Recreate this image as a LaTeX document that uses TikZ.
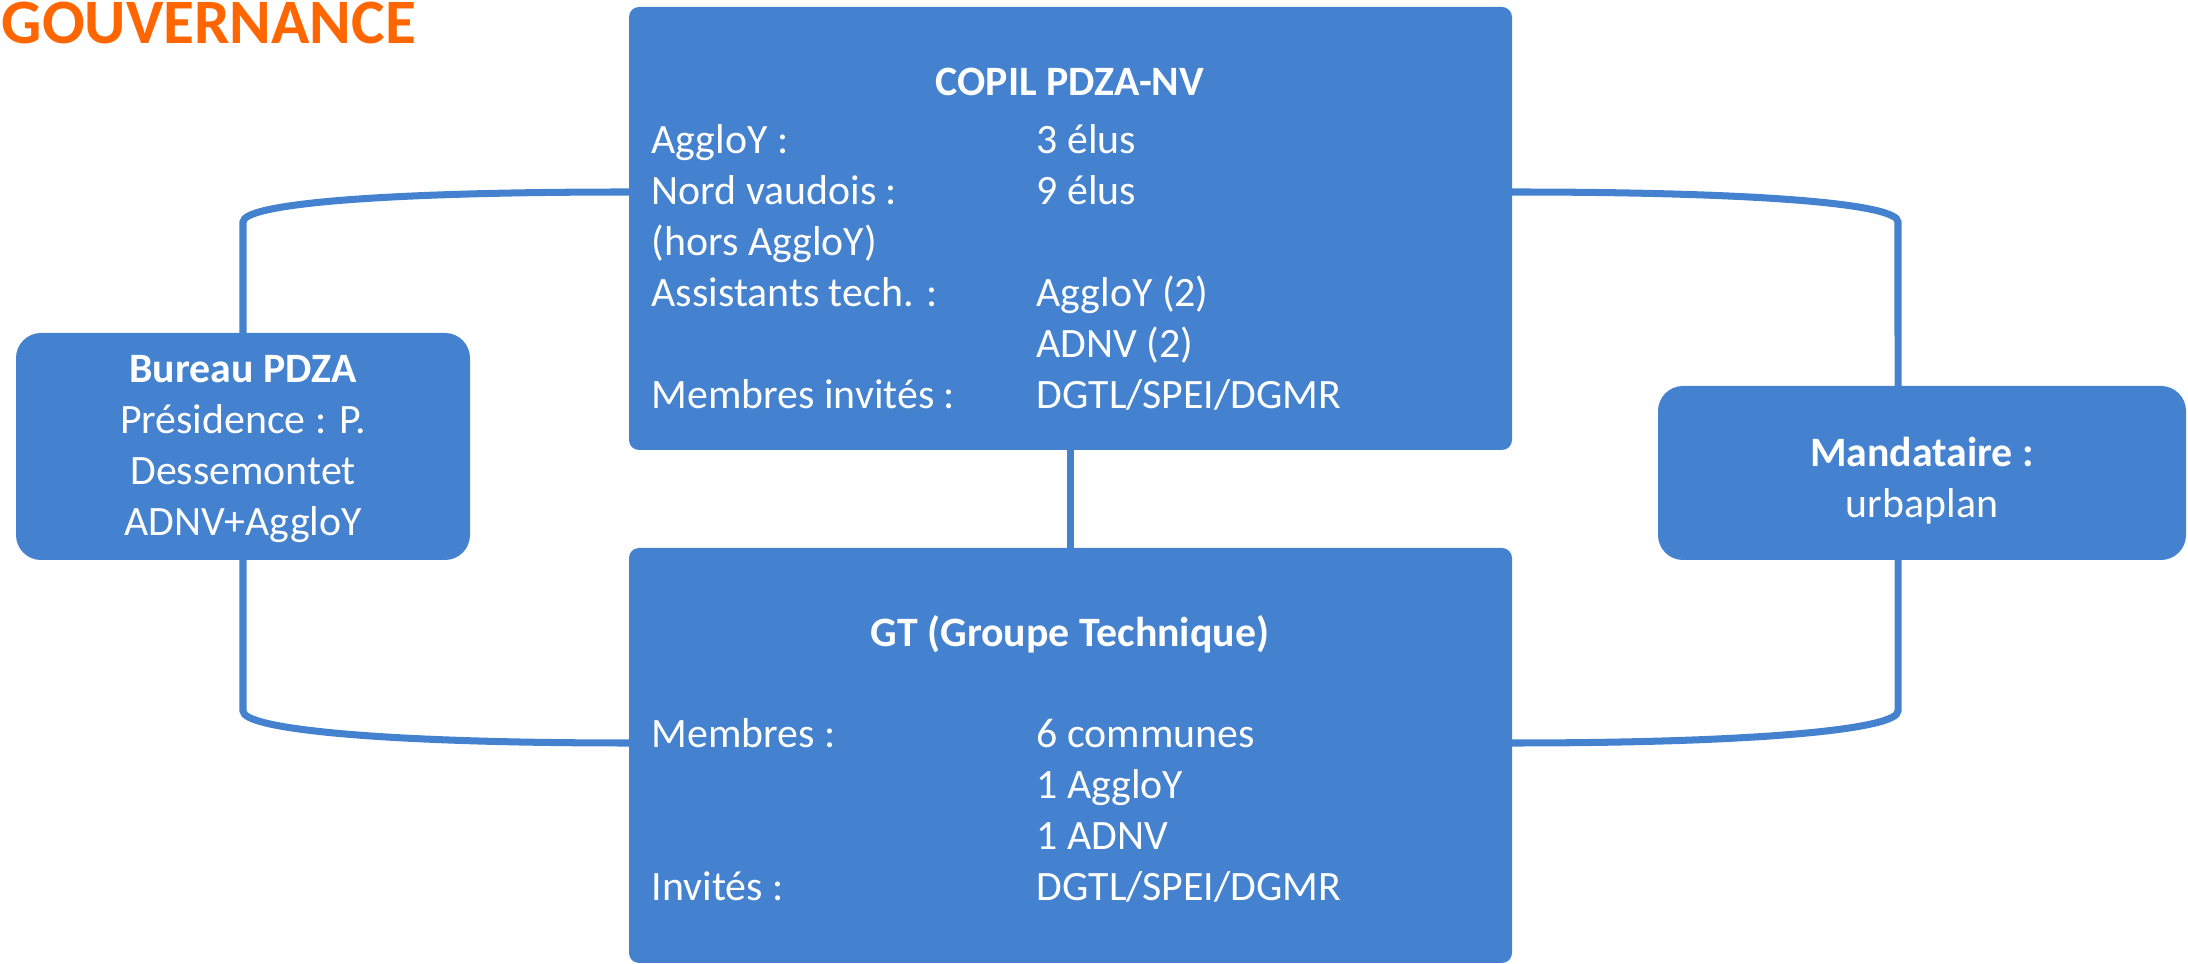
\documentclass[tikz,border=0pt]{standalone}
\usepackage{fontspec}
\setmainfont{Carlito}
\usepackage{xcolor}
\usepackage{tikz}
\definecolor{boxblue}{HTML}{4481CF}
\definecolor{titleorange}{HTML}{FF6600}
\newcommand{\orgsize}{\fontsize{11.9}{14.5}\selectfont}
\tikzset{
  orgBox/.style={fill=boxblue, draw=none, inner sep=0pt, outer sep=0pt, rounded corners=1mm},
  roundBox/.style={orgBox, rounded corners=2.5mm},
  orgLink/.style={draw=boxblue, line width=2pt},
  orgTitle/.style={text=white, font=\bfseries\orgsize, anchor=base, inner sep=0pt},
  orgText/.style={text=white, font=\orgsize, anchor=base west, inner sep=0pt}
}

\begin{document}
\begin{tikzpicture}[x=0.1mm, y=-0.1mm]
  \useasboundingbox (0,0) rectangle (2188,964);

  \node[orgText, font=\bfseries\fontsize{18}{22}\selectfont, text=titleorange] (title) at (1,44) {GOUVERNANCE};

  % boxes
  \node[orgBox, minimum width=88.3mm, minimum height=44.3mm] (copil) at (1070.5,228.5) {};
  \node[orgBox, minimum width=88.3mm, minimum height=41.5mm] (gt) at (1070.5,755.5) {};
  \node[roundBox, minimum width=45.4mm, minimum height=22.7mm] (bureau) at (243,446.5) {};
  \node[roundBox, minimum width=52.8mm, minimum height=17.4mm] (mandat) at (1922,473) {};

  % COPIL
  \node[orgTitle] (copiltitle) at (1070,96) {COPIL PDZA-NV};
  \node[orgText] (copilrows) at (651,154) {\begin{tabular}[t]{@{}p{38.5mm}@{}l@{}}
    AggloY : & 3 élus\\
    Nord vaudois : & 9 élus\\
    (hors AggloY) & \\
    Assistants tech. : & AggloY (2)\\
     & ADNV (2)\\
    Membres invités : & DGTL/SPEI/DGMR
  \end{tabular}};

  % GT
  \node[orgTitle] (gttitle) at (1070,647) {GT (Groupe Technique)};
  \node[orgText] (gtrows) at (651,748) {\begin{tabular}[t]{@{}p{38.5mm}@{}l@{}}
    Membres : & 6 communes\\
     & 1 AggloY\\
     & 1 ADNV\\
    Invités : & DGTL/SPEI/DGMR
  \end{tabular}};

  \node[orgText, anchor=base] (bureautxt) at (243,383) {\begin{tabular}[t]{@{}c@{}}
    \textbf{Bureau PDZA}\\
    Présidence : P.\\
    Dessemontet\\
    ADNV+AggloY
  \end{tabular}};
  \node[orgText, anchor=base] (mandattxt) at (1922,467) {\begin{tabular}[t]{@{}c@{}}
    \textbf{Mandataire :}\\
    urbaplan
  \end{tabular}};

  % links
  \draw[orgLink] (copil.south) -- (gt.north);
  \draw[orgLink] ([yshift=3.65mm]copil.west) .. controls +(-250,0) and +(0,-18) .. ++(-386,30) -- (bureau.north);
  \draw[orgLink] (bureau.south) -- ++(0,151) .. controls +(0,18) and +(-250,0) .. ([yshift=1.25mm]gt.west);
  \draw[orgLink] ([yshift=3.65mm]copil.east) .. controls +(250,0) and +(0,-18) .. ++(386,30) -- ([xshift=-2.4mm]mandat.north);
  \draw[orgLink] ([xshift=-2.4mm]mandat.south) -- ++(0,151) .. controls +(0,18) and +(250,0) .. ([yshift=1.25mm]gt.east);
\end{tikzpicture}
\end{document}
